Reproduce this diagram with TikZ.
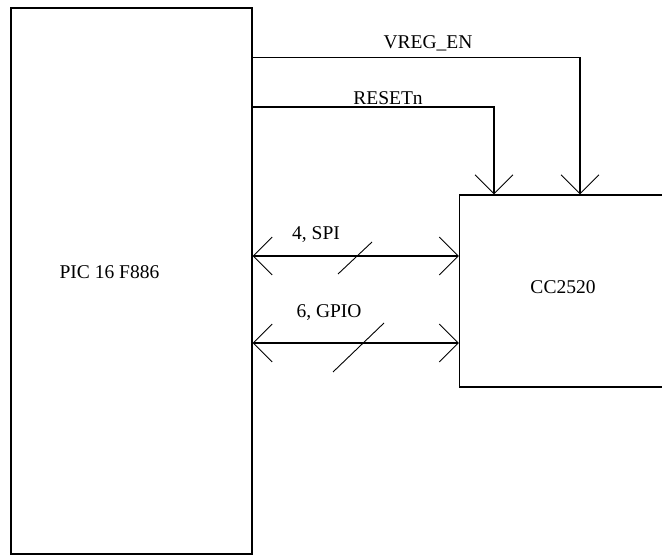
\documentclass[tikz,border=0pt]{standalone}
\usepackage{fontspec}
\setmainfont{Liberation Serif}
\usetikzlibrary{arrows.meta}
\begin{document}
\begin{tikzpicture}[x=1pt,y=-1pt,
  box/.style={draw,line width=1.2pt,rectangle,inner sep=0pt},
  lbl/.style={inner sep=0pt,anchor=center,font=\fontsize{19.5}{22}\selectfont},
  sig/.style={line width=1.2pt,-{Straight Barb[length=19pt,width=38pt,line width=0.9pt]}},
  bus/.style={line width=1.2pt,{Straight Barb[length=19pt,width=38pt,line width=0.9pt]}-{Straight Barb[length=19pt,width=38pt,line width=0.9pt]}},
  slash/.style={line width=0.9pt}]
\useasboundingbox (0,0) rectangle (662,556);
\fill[white] (0,0) rectangle (662,556);
\node[box,minimum width=241pt,minimum height=546pt] (pic) at (131.5,281) {};
\node[box,minimum width=250pt,minimum height=192pt] (cc) at (584.5,291) {};
\node[lbl] (piclbl) at (109.5,272) {PIC 16 F886};
\node[lbl] (cclbl) at (563,287) {CC2520};
% control lines
\draw[sig] (pic.east |- 0,57.5) -| (cc.north -| 580,0);
\draw[sig] (pic.east |- 0,107) -| (cc.north -| 494,0);
\node[lbl] (vreg) at (428,43) {VREG\_EN};
\node[lbl] (rst) at (388,98) {RESETn};
% buses
\draw[bus] (pic.east |- 0,256) -- (cc.west |- 0,256);
\draw[bus] (pic.east |- 0,343) -- (cc.west |- 0,343);
\draw[slash] (338,274) -- (372,242);
\draw[slash] (333,372) -- (384,323);
\node[lbl] (spi) at (316,235) {4, SPI};
\node[lbl] (gpio) at (329,313) {6, GPIO};
\end{tikzpicture}
\end{document}
